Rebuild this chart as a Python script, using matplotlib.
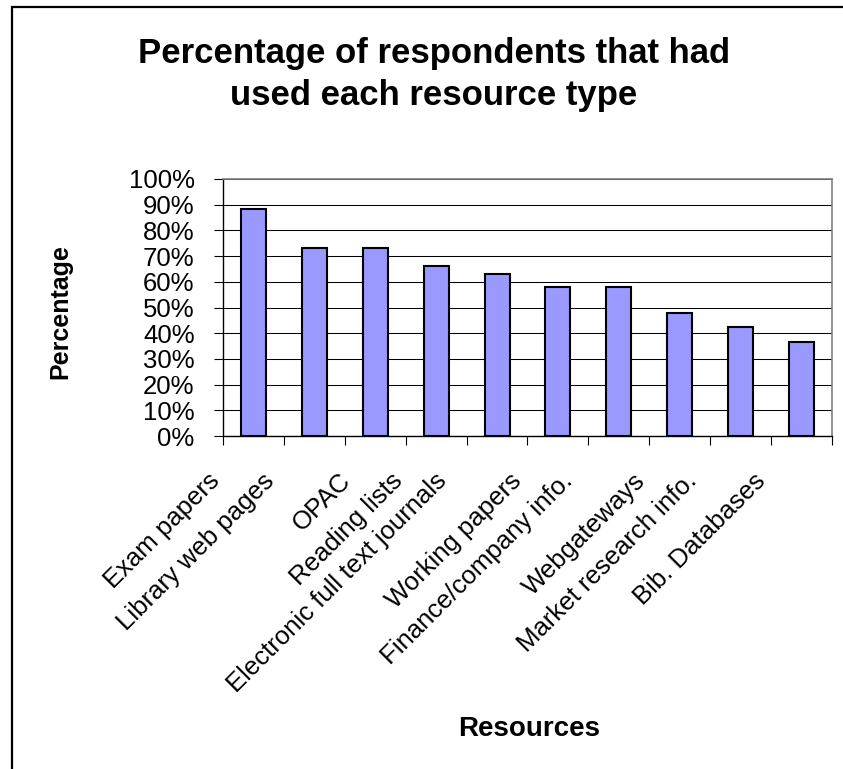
import matplotlib
matplotlib.use("Agg")
import matplotlib.pyplot as plt
import matplotlib.patches as patches
from matplotlib.transforms import ScaledTranslation, blended_transform_factory
from matplotlib.ticker import FixedLocator, PercentFormatter

# Data
resources = ['Exam papers', 'Library web pages', 'OPAC', 'Reading lists',
             'Electronic full text journals', 'Working papers',
             'Finance/company info.', 'Webgateways', 'Market research info.',
             'Bib. Databases']
percent_used = [88.3, 73.3, 73.3, 66.3, 63.2, 57.9, 57.9, 47.7, 42.4, 36.7]
y_ticks = list(range(0, 101, 10))
title_lines = ['Percentage of respondents that had', 'used each resource type']

plt.rcParams['font.family'] = ['Liberation Sans', 'DejaVu Sans']

fig = plt.figure(figsize=(8.43, 7.69), dpi=100)
W, H = 843, 769
ax = fig.add_axes([223 / W, 1 - 436 / H, (832 - 223) / W, (436 - 179) / H])

x = list(range(len(resources)))
ax.bar(x, percent_used, width=0.41, color='#9999FF', edgecolor='black',
       linewidth=1.5, zorder=3)

ax.set_xlim(-0.5, len(resources) - 0.5)
ax.set_ylim(0, 100)
ax.set_yticks(y_ticks)
ax.yaxis.set_major_formatter(PercentFormatter(decimals=0))
ax.yaxis.grid(True, color='black', linewidth=0.75)
ax.set_axisbelow(True)

# tick marks at category boundaries, labels drawn by hand
ax.set_xticks([])
ax.xaxis.set_minor_locator(FixedLocator([i - 0.5 for i in range(len(resources) + 1)]))
ax.tick_params(axis='x', which='minor', length=6.5, width=0.8, color='black')
ax.tick_params(axis='y', length=6.5, width=0.8, pad=14, labelsize=18.5)

for side in ['top', 'right']:
    ax.spines[side].set_color('#808080')
    ax.spines[side].set_linewidth(1.2)
for side in ['left', 'bottom']:
    ax.spines[side].set_color('black')
    ax.spines[side].set_linewidth(1.0)

# rotated category labels, placed the way the old spreadsheet did it
trans = blended_transform_factory(ax.transData, ax.transAxes)
fig.canvas.draw()
renderer = fig.canvas.get_renderer()
for i, name in enumerate(resources):
    probe = fig.text(0, 0, name, fontsize=18.5)
    length = probe.get_window_extent(renderer).width
    probe.remove()
    dx = -(20 + 0.114 * length) / 100
    ax.text(i, 0, name, fontsize=18.5, rotation=45, rotation_mode='anchor',
            ha='right', va='center', clip_on=False,
            transform=trans + ScaledTranslation(dx, -41 / 100, fig.dpi_scale_trans))

# title, two lines
for line, base in zip(title_lines, [63, 105]):
    fig.text(434 / W, 1 - base / H, line, ha='center', va='baseline',
             fontsize=25, fontweight='bold')
fig.text(60 / W, 1 - 312 / H, 'Percentage', rotation=90, ha='center', va='center',
         fontsize=18, fontweight='bold')
fig.text(529 / W, 1 - 736 / H, 'Resources', ha='center', va='baseline',
         fontsize=20, fontweight='bold')

# chart area frame
frame = patches.Rectangle((12 / W, -0.05), 1.2, 1.05 - 7 / H, transform=fig.transFigure,
                          fill=False, edgecolor='black', linewidth=1.6, clip_on=False)
fig.patches.append(frame)

fig.savefig('out.png', dpi=100)
